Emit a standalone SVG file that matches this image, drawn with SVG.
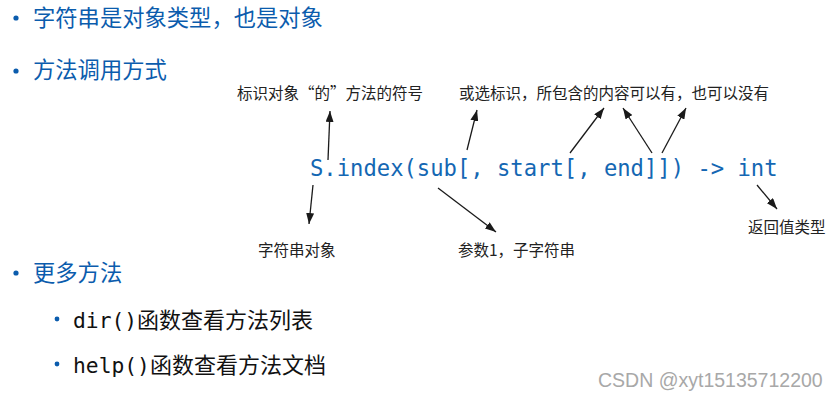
<svg xmlns="http://www.w3.org/2000/svg" width="840" height="400" viewBox="0 0 840 400">
<defs>
<marker id="ah" viewBox="0 0 11 8" refX="11" refY="4" markerWidth="11" markerHeight="8" markerUnits="userSpaceOnUse" orient="auto">
<path d="M0,0 L11,4 L0,8 Z" fill="#1a1a1a"/>
</marker>
<style>
.h{font-family:"Noto Sans CJK SC","Liberation Sans",sans-serif;font-size:22.3px;fill:#0b5cad}
.b{fill:#0b5cad}
.t{font-family:"Noto Sans CJK SC","Liberation Sans",sans-serif;font-size:22px;fill:#111}
.m{font-family:"DejaVu Sans Mono","Liberation Mono",monospace;font-size:21.3px}
.code{font-family:"DejaVu Sans Mono","Liberation Mono",monospace;font-size:22.2px;fill:#1467b3}
.lbl{font-family:"Noto Sans CJK SC","Liberation Sans",sans-serif;font-size:15.5px;fill:#222}
.wm{font-family:"Liberation Sans","Noto Sans CJK SC",sans-serif;font-size:19.5px;fill:#a8a8a8}
.c line{stroke:#1a1a1a;stroke-width:1.3;marker-end:url(#ah)}
</style>
</defs>
<rect width="840" height="400" fill="#fff"/>
<g id="bullet1"><circle class="b" cx="16" cy="18" r="2.6"/><text class="h" x="33" y="26">字符串是对象类型，也是对象</text></g>
<g id="bullet2"><circle class="b" cx="16" cy="71" r="2.6"/><text class="h" x="33" y="78">方法调用方式</text></g>
<g id="code"><text class="code" x="310" y="176">S.index(sub[, start[, end]]) -> int</text></g>
<g id="lbl-dot"><text class="lbl" x="237" y="99">标识对象“的”方法的符号</text></g>
<g id="lbl-opt"><text class="lbl" x="459" y="99">或选标识，所包含的内容可以有，也可以没有</text></g>
<g id="lbl-obj"><text class="lbl" x="258" y="256">字符串对象</text></g>
<g id="lbl-sub"><text class="lbl" x="458" y="256">参数1，子字符串</text></g>
<g id="lbl-ret"><text class="lbl" x="748" y="233">返回值类型</text></g>
<g id="connectors" class="c">
<line x1="328" y1="160" x2="330" y2="111"/>
<line x1="467" y1="150" x2="477" y2="110"/>
<line x1="570" y1="153" x2="604" y2="108"/>
<line x1="652" y1="153" x2="623" y2="108"/>
<line x1="662" y1="153" x2="686" y2="108"/>
<line x1="757" y1="185" x2="777" y2="209"/>
<line x1="313" y1="185" x2="309" y2="224"/>
<line x1="438" y1="188" x2="496" y2="232"/>
</g>
<g id="bullet3"><circle class="b" cx="16" cy="273" r="2.6"/><text class="h" x="33" y="281">更多方法</text></g>
<g id="sub1"><circle class="b" cx="57" cy="319" r="2.4"/><text class="t" x="73" y="328"><tspan class="m">dir()</tspan>函数查看方法列表</text></g>
<g id="sub2"><circle class="b" cx="57" cy="364" r="2.4"/><text class="t" x="73" y="373"><tspan class="m">help()</tspan>函数查看方法文档</text></g>
<text class="wm" x="598" y="387">CSDN @xyt15135712200</text>
</svg>
